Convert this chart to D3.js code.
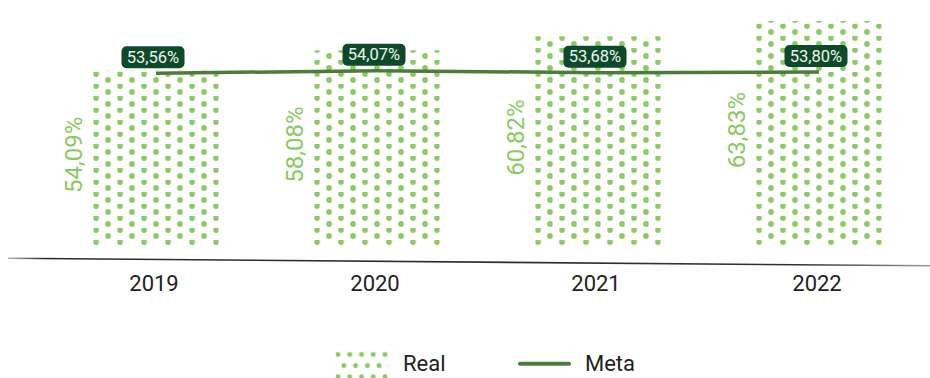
<!DOCTYPE html>
<html>
<head>
<meta charset="utf-8">
<script src="https://cdn.jsdelivr.net/npm/d3@7"></script>
<style>
  html, body { margin: 0; padding: 0; background: #fff; }
  svg { display: block; font-family: Roboto, "Liberation Sans", sans-serif; }
</style>
</head>
<body>
<script>
const width = 930
const height = 378

const years = ["2019", "2020", "2021", "2022"]
const real = [54.09, 58.08, 60.82, 63.83]
const meta = [53.56, 54.07, 53.68, 53.80]
const seriesNames = ["Real", "Meta"]

const green = "#8bc962"
const lineGreen = "#4b7d39"
const boxGreen = "#0c4a2a"

const fmt = v => d3.format(".2f")(v).replace(".", ",") + "%"

const x = d3.scaleBand()
    .domain(years)
    .range([45.5, 929.5])
    .paddingInner(0.432)
    .paddingOuter(0.216)

const y = d3.scaleLinear()
    .domain([19.8, 66])
    .range([245, 10])

const data = years.map((year, i) => ({year, real: real[i], meta: meta[i]}))

const svg = d3.select("body").append("svg")
    .attr("viewBox", [0, 0, width, height])
    .attr("width", width)
    .attr("height", height)

const defs = svg.append("defs")

// one dot pattern per bar, so the dots start at the bar edge
data.forEach((d, i) => {
  const p = defs.append("pattern")
      .attr("id", "dots-" + i)
      .attr("patternUnits", "userSpaceOnUse")
      .attr("x", x(d.year))
      .attr("y", 0)
      .attr("width", 24)
      .attr("height", 12)
  p.append("circle").attr("cx", 2.8).attr("cy", 2).attr("r", 2.9).attr("fill", green)
  p.append("circle").attr("cx", 14.8).attr("cy", 8).attr("r", 2.9).attr("fill", green)
  p.append("circle").attr("cx", 14.8).attr("cy", -4).attr("r", 2.9).attr("fill", green)
})

const lp = defs.append("pattern")
    .attr("id", "dots-legend")
    .attr("patternUnits", "userSpaceOnUse")
    .attr("x", 338 - 5.875)
    .attr("y", 354.3 - 5.6)
    .attr("width", 11.75)
    .attr("height", 22.4)
lp.append("circle").attr("cx", 5.875).attr("cy", 5.6).attr("r", 2.5).attr("fill", green)
lp.append("circle").attr("cx", 0).attr("cy", 16.8).attr("r", 2.5).attr("fill", green)
lp.append("circle").attr("cx", 11.75).attr("cy", 16.8).attr("r", 2.5).attr("fill", green)

const grad = defs.append("linearGradient")
    .attr("id", "axis-grad")
    .attr("gradientUnits", "userSpaceOnUse")
    .attr("x1", 8).attr("x2", 930).attr("y1", 0).attr("y2", 0)
grad.selectAll("stop")
  .data([[0, "#b5b5b5"], [0.04, "#2a2a2a"], [0.86, "#333"], [1, "#9a9a9a"]])
  .join("stop")
    .attr("offset", d => d[0])
    .attr("stop-color", d => d[1])

// bars
svg.append("g")
  .selectAll("rect")
  .data(data)
  .join("rect")
    .attr("x", d => x(d.year))
    .attr("y", d => y(d.real))
    .attr("width", x.bandwidth())
    .attr("height", d => y.range()[0] - y(d.real))
    .attr("fill", (d, i) => `url(#dots-${i})`)

// rotated value labels
svg.append("g")
  .selectAll("text")
  .data(data)
  .join("text")
    .attr("transform", d => `translate(${x(d.year) - 11},${(y(d.real) + y.range()[0]) / 2 - 3}) rotate(-90)`)
    .attr("text-anchor", "middle")
    .attr("font-size", 24)
    .attr("fill", green)
    .text(d => fmt(d.real))

// axis line (slightly tilted, faded ends)
svg.append("line")
    .attr("x1", 8).attr("y1", 258.3)
    .attr("x2", 930).attr("y2", 265.8)
    .attr("stroke", "url(#axis-grad)")
    .attr("stroke-width", 1.6)

svg.append("g")
  .selectAll("text")
  .data(years)
  .join("text")
    .attr("x", d => x(d) + x.bandwidth() / 2 - 2)
    .attr("y", 291)
    .attr("text-anchor", "middle")
    .attr("font-size", 22)
    .attr("fill", "#222")
    .text(d => d)

// meta line
const line = d3.line()
    .x(d => x(d.year) + x.bandwidth() / 2)
    .y(d => y(d.meta))

svg.append("path")
    .datum(data)
    .attr("d", line)
    .attr("fill", "none")
    .attr("stroke", lineGreen)
    .attr("stroke-width", 3.5)

const tags = svg.append("g")
  .selectAll("g")
  .data(data)
  .join("g")
    .attr("transform", d => `translate(${x(d.year) + x.bandwidth() / 2 - 3},${y(d.meta) - 5})`)

tags.append("rect")
    .attr("x", -31.5)
    .attr("y", -22)
    .attr("width", 63)
    .attr("height", 22)
    .attr("rx", 5)
    .attr("fill", boxGreen)

tags.append("text")
    .attr("y", -5.5)
    .attr("text-anchor", "middle")
    .attr("font-size", 16.5)
    .attr("fill", "#eef3ee")
    .text(d => fmt(d.meta))

// legend
const legend = svg.append("g")

legend.append("rect")
    .attr("x", 335.5).attr("y", 351.5)
    .attr("width", 53).attr("height", 30)
    .attr("fill", "url(#dots-legend)")

legend.append("text")
    .attr("x", 403).attr("y", 371)
    .attr("font-size", 22)
    .attr("fill", "#222")
    .text(seriesNames[0])

legend.append("line")
    .attr("x1", 520).attr("x2", 569)
    .attr("y1", 363.7).attr("y2", 363.7)
    .attr("stroke", lineGreen)
    .attr("stroke-width", 4)
    .attr("stroke-linecap", "round")

legend.append("text")
    .attr("x", 585).attr("y", 371)
    .attr("font-size", 22)
    .attr("fill", "#222")
    .text(seriesNames[1])
</script>
</body>
</html>
